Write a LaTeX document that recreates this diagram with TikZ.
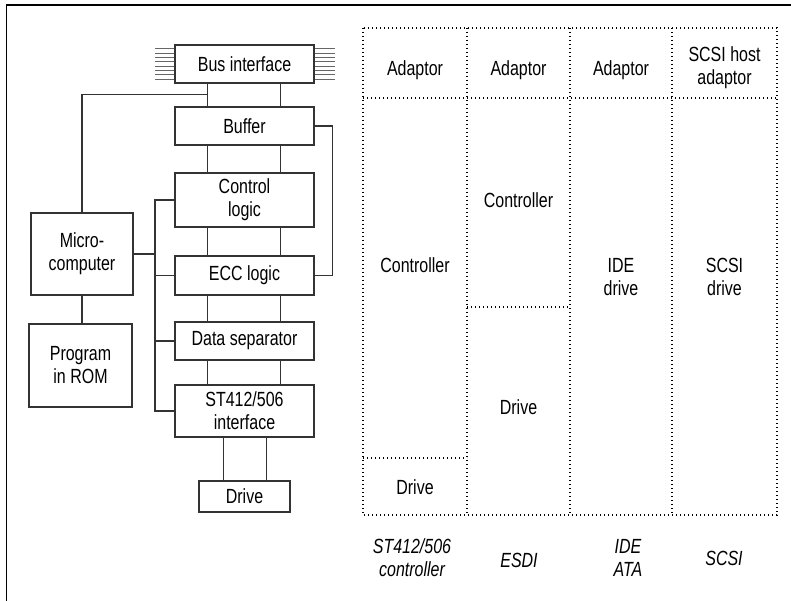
\documentclass[tikz,border=0pt]{standalone}
\usepackage{fontspec}
\setmainfont[FakeStretch=0.78]{Liberation Sans}
\usetikzlibrary{positioning,calc}

\begin{document}
\begin{tikzpicture}[x=10pt, y=-10pt,
    blk/.style={draw=black!80, line width=1.1pt, minimum width=139pt, minimum height=38pt, inner sep=0pt, align=center, font=\fontsize{20.5}{23}\selectfont},
    wire/.style={draw=black!80, line width=1.1pt},
    stub/.style={draw=black!60, line width=0.8pt},
    grid/.style={line width=1.2pt, dash pattern=on 1.3pt off 2.7pt},
    cell/.style={align=center, font=\fontsize{20.5}{23}\selectfont},
    kind/.style={align=center, font=\fontsize{20.5}{23}\selectfont\itshape}
]
\useasboundingbox (0,0) rectangle (79.1,60.1);
\draw[line width=1.6pt] (0.65,60.1) -- (0.65,0.5) -- (79.1,0.5);

% controller blocks
\node[blk] (bus) at (24.45,6.4) {Bus interface};
\node[blk] (buf) at (24.45,12.6) {Buffer};
\node[blk, minimum height=54pt] (ctl) at (24.45,20.0) {Control\\logic};
\node[blk, minimum height=39pt] (ecc) at (24.45,27.55) {ECC logic};
\node[blk] (sep) at (24.45,34.1) {Data separator};
\node[blk, minimum height=52pt] (st) at (24.45,41.1) {ST412/506\\interface};
\node[blk, minimum width=91pt, minimum height=31pt] (drv) at (24.45,49.65) {Drive};
\node[blk, minimum width=102pt, minimum height=82pt] (mc) at (8.2,25.4) {Micro-\\computer};
\node[blk, minimum width=103pt, minimum height=83pt] (rom) at (8.05,36.55) {Program\\in ROM};

\foreach \dy in {-15,-10.7,...,15.2}
  \draw[stub] ([yshift=\dy pt]bus.west) -- ++(-19pt,0) ([yshift=\dy pt]bus.east) -- ++(20pt,0);

\foreach \a/\b in {bus/buf, buf/ctl, ctl/ecc, ecc/sep, sep/st}
  \draw[wire] ([xshift=-37pt]\a.south) -- ([xshift=-37pt]\b.north)
              ([xshift=36pt]\a.south) -- ([xshift=36pt]\b.north);
\draw[wire] ([xshift=-21pt]st.south) -- ([xshift=-21pt]drv.north)
            ([xshift=22pt]st.south) -- ([xshift=22pt]drv.north);

\coordinate (j) at ([xshift=-37pt,yshift=-11pt]bus.south);
\coordinate (sp) at (15.5,0);
\draw[wire] (mc.north) |- (j);
\draw[wire] (mc.south) -- (mc.south |- rom.north);
\draw[wire] (buf.east) -- ++(18pt,0) |- (ecc.east);
\draw[wire] (ctl.west) -| (sp |- st.west) -- (st.west);
\draw[wire] (ecc.west) -- (ecc.west -| sp);
\draw[wire] (sep.west) -- (sep.west -| sp);
\draw[wire] (mc.east) -- (mc.east -| sp);

% interface table
\draw[grid] (36.3,2.8) rectangle (77.7,51.5);
\draw[grid] (36.3,9.8) -- (77.7,9.8);
\foreach \x in {46.7,57.0,67.2}
  \draw[grid] (\x,2.8) -- (\x,51.5);
\draw[grid] (36.3,45.8) -- (46.7,45.8);
\draw[grid] (46.7,30.7) -- (57.0,30.7);

\node[cell] (ad1) at (41.5,7.0) {Adaptor};
\node[cell] (ad2) at (51.85,7.0) {Adaptor};
\node[cell] (ad3) at (62.1,7.0) {Adaptor};
\node[cell] (ad4) at (72.45,6.8) {SCSI host\\adaptor};
\node[cell] (ct1) at (41.5,26.5) {Controller};
\node[cell] (dr1) at (41.5,48.7) {Drive};
\node[cell] (ct2) at (51.85,20.0) {Controller};
\node[cell] (dr2) at (51.85,40.7) {Drive};
\node[cell] (ide) at (62.1,27.7) {IDE\\drive};
\node[cell] (scsi) at (72.45,27.7) {SCSI\\drive};

\node[kind] (k1) at (41.2,55.8) {ST412/506\\controller};
\node[kind] (k2) at (51.9,56.0) {ESDI};
\node[kind] (k3) at (62.8,55.8) {IDE\\ATA};
\node[kind] (k4) at (72.4,55.8) {SCSI};
\end{tikzpicture}
\end{document}
